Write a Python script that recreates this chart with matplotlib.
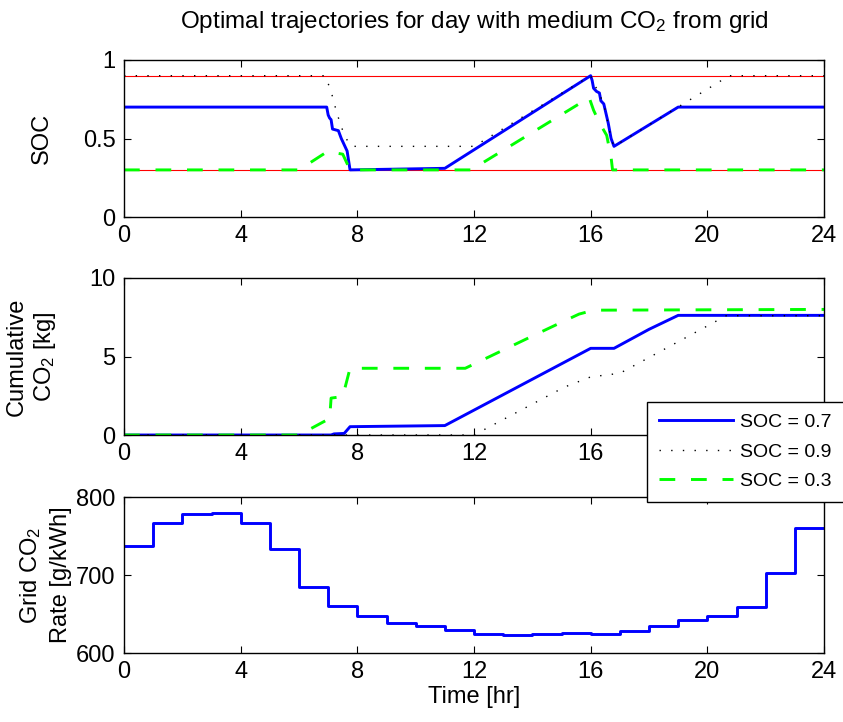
import matplotlib
matplotlib.use('Agg')
import matplotlib.pyplot as plt
import numpy as np

plt.rcParams.update({
    'font.family': ['Liberation Sans', 'DejaVu Sans'],
    'font.size': 17,
    'mathtext.fontset': 'custom',
    'mathtext.rm': 'Liberation Sans',
    'mathtext.it': 'Liberation Sans',
    'axes.linewidth': 1.0,
})

# ---------- data ----------
# SOC trajectories (hour, SOC)
soc07_t = [0, 6.95, 7.0, 7.05, 7.1, 7.15, 7.35, 7.45, 7.55, 7.65, 7.75, 11.0,
           16.0, 16.05, 16.1, 16.2, 16.3, 16.35, 16.45, 16.5, 16.6, 16.7, 16.8, 19.0, 24]
soc07_v = [0.70, 0.70, 0.65, 0.63, 0.62, 0.56, 0.55, 0.50, 0.46, 0.42, 0.30, 0.31,
           0.90, 0.87, 0.82, 0.80, 0.79, 0.74, 0.72, 0.68, 0.60, 0.50, 0.45, 0.70, 0.70]
soc09_t = [0, 6.9, 7.1, 7.3, 7.5, 7.65, 7.8, 12.0, 16.0, 16.1, 16.3, 16.5, 16.7, 16.8, 20.75, 24]
soc09_v = [0.90, 0.90, 0.80, 0.66, 0.55, 0.49, 0.45, 0.45, 0.90, 0.85, 0.79, 0.68, 0.50, 0.45, 0.90, 0.90]
soc03_t = [0, 6.0, 7.0, 7.2, 7.5, 7.6, 7.75, 11.9, 15.95, 16.1, 16.3, 16.55, 16.7, 16.75, 24]
soc03_v = [0.30, 0.30, 0.42, 0.41, 0.40, 0.36, 0.30, 0.30, 0.76, 0.68, 0.60, 0.52, 0.38, 0.30, 0.30]
soc_bounds = [0.9, 0.3]

# Cumulative CO2 [kg]
co2_07_t = [0, 7.1, 7.2, 7.55, 7.75, 11.0, 16.0, 16.8, 18.0, 19.0, 24]
co2_07_v = [0, 0, 0.07, 0.10, 0.53, 0.60, 5.52, 5.52, 6.73, 7.62, 7.62]
co2_09_t = [0, 12.0, 15.1, 16.0, 17.0, 20.65, 24]
co2_09_v = [0, 0, 3.05, 3.70, 3.93, 7.60, 7.60]
co2_03_t = [0, 6.0, 6.95, 7.05, 7.1, 7.5, 7.75, 11.7, 14.0, 15.0, 15.6, 16.1, 24]
co2_03_v = [0, 0, 0.95, 1.0, 2.35, 2.45, 4.25, 4.25, 6.30, 7.18, 7.70, 7.95, 8.00]

# Grid CO2 rate [g/kWh], hourly
rate_hours = np.arange(0, 25)
rate_vals = [737, 767, 778, 780, 767, 733, 684, 660, 647, 638, 635, 629,
             624, 623, 624, 626, 624, 628, 635, 642, 647, 659, 703, 760]

labels = ['SOC = 0.7', 'SOC = 0.9', 'SOC = 0.3']

# ---------- figure ----------
fig = plt.figure(figsize=(8.43, 7.22), dpi=100)
W, H = 843, 722
L, R = 124, 824

def add_ax(top, bottom):
    return fig.add_axes([L / W, (H - bottom) / H, (R - L) / W, (bottom - top) / H])

ax1 = add_ax(60, 217)
ax2 = add_ax(278, 435)
ax3 = add_ax(497, 653)

blue = dict(color='#0000ff', lw=2.1)
black = dict(color='black', lw=1.0, dashes=(1.0, 7.4))
green = dict(color='#00ff00', lw=2.1, dashes=(5.4, 5.4))

for b in soc_bounds:
    ax1.axhline(b, color='red', lw=0.8)
ax1.plot(soc07_t, soc07_v, **blue)
ax1.plot(soc09_t, soc09_v, **black)
ax1.plot(soc03_t, soc03_v, **green)
ax1.set_ylim(0, 1)
ax1.set_yticks([0, 0.5, 1])
ax1.set_yticklabels(['0', '0.5', '1'])
ax1.set_ylabel('SOC')
ax1.yaxis.set_label_coords(-0.102, 0.5)

h1, = ax2.plot(co2_07_t, co2_07_v, **blue)
h2, = ax2.plot(co2_09_t, co2_09_v, **black)
h3, = ax2.plot(co2_03_t, co2_03_v, **green)
ax2.set_ylim(0, 10)
ax2.set_yticks([0, 5, 10])
ax2.set_ylabel('Cumulative\nCO$_2$ [kg]', linespacing=1.25)
ax2.yaxis.set_label_coords(-0.094, 0.5)

ax3.step(rate_hours, rate_vals + [rate_vals[-1]], where='post', **blue)
ax3.set_ylim(600, 800)
ax3.set_yticks([600, 700, 800])
ax3.set_ylabel('Grid CO$_2$\nRate [g/kWh]', linespacing=1.45)
ax3.yaxis.set_label_coords(-0.074, 0.5)
ax3.set_xlabel('Time [hr]', labelpad=2)

for ax in (ax1, ax2, ax3):
    ax.set_xlim(0, 24)
    ax.set_xticks(range(0, 25, 4))
    ax.tick_params(direction='in', top=True, right=True, length=5, width=0.8, pad=6)

fig.text(474 / W, (H - 28) / H, 'Optimal trajectories for day with medium CO$_2$ from grid',
         ha='center', va='baseline', fontsize=17.5)

leg = fig.legend([h1, h2, h3], labels, loc='upper left', fontsize=14,
                 bbox_to_anchor=(647 / W, (H - 402) / H), borderaxespad=0,
                 fancybox=False, framealpha=1, edgecolor='black',
                 handlelength=3.8, handletextpad=0.4, labelspacing=0.6, borderpad=0.6)
leg.get_frame().set_linewidth(1.0)

fig.savefig('out.png', dpi=100)
